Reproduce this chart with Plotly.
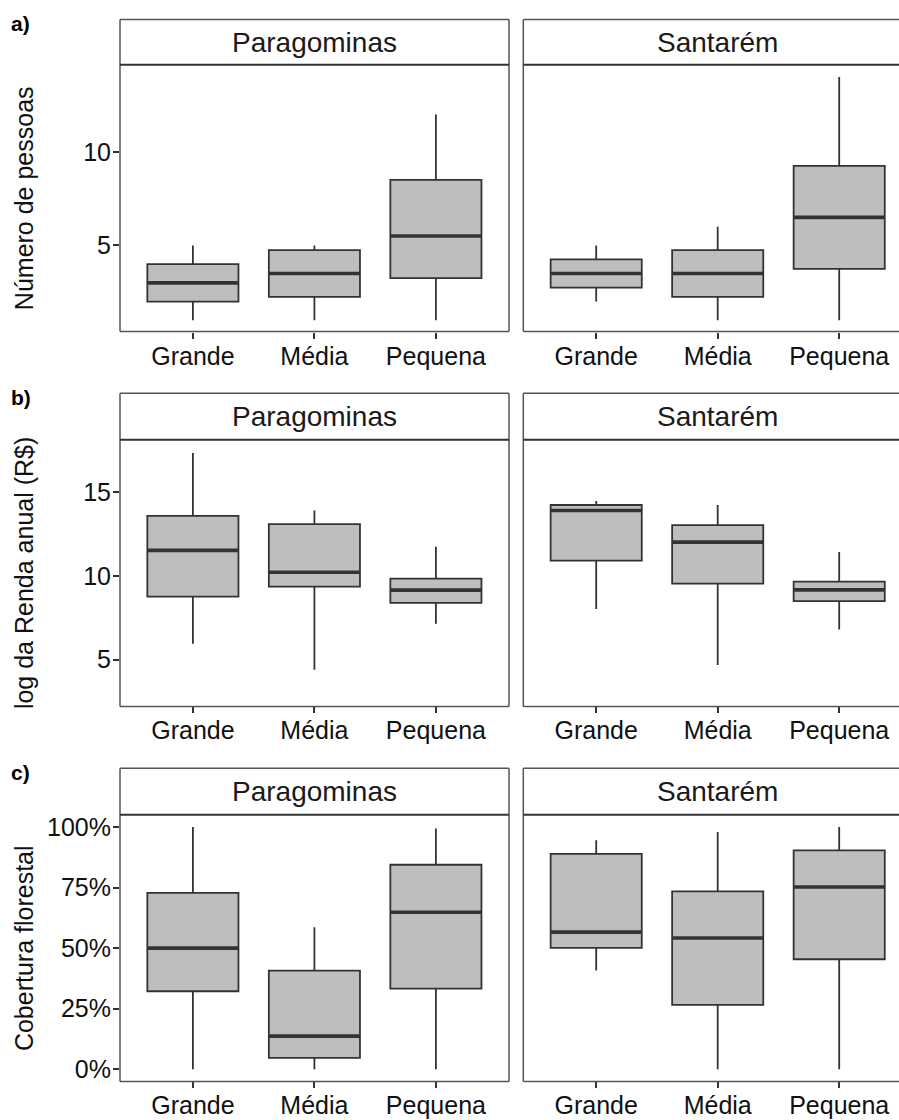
import plotly.graph_objects as go

# ---------------- data ----------------
categories = ["Grande", "Média", "Pequena"]
sites = ["Paragominas", "Santarém"]
panel_tags = ["a)", "b)", "c)"]
y_titles = ["Número de pessoas", "log da Renda anual (R$)", "Cobertura florestal"]

# a) Número de pessoas
pessoas_par_low = [1, 1, 1]
pessoas_par_q1 = [2.0, 2.25, 3.25]
pessoas_par_med = [3.0, 3.5, 5.5]
pessoas_par_q3 = [4.0, 4.75, 8.5]
pessoas_par_high = [5, 5, 12]
pessoas_san_low = [2, 1, 1]
pessoas_san_q1 = [2.75, 2.25, 3.75]
pessoas_san_med = [3.5, 3.5, 6.5]
pessoas_san_q3 = [4.25, 4.75, 9.25]
pessoas_san_high = [5, 6, 14]

# b) log da Renda anual (R$)
renda_par_low = [5.95, 4.40, 7.14]
renda_par_q1 = [8.77, 9.36, 8.39]
renda_par_med = [11.53, 10.22, 9.15]
renda_par_q3 = [13.59, 13.10, 9.84]
renda_par_high = [17.34, 13.91, 11.74]
renda_san_low = [8.02, 4.68, 6.80]
renda_san_q1 = [10.91, 9.54, 8.49]
renda_san_med = [13.91, 12.02, 9.17]
renda_san_q3 = [14.24, 13.04, 9.66]
renda_san_high = [14.48, 14.24, 11.43]

# c) Cobertura florestal (fraction)
cob_par_low = [0.0, 0.0, 0.0]
cob_par_q1 = [0.322, 0.047, 0.333]
cob_par_med = [0.50, 0.137, 0.648]
cob_par_q3 = [0.728, 0.407, 0.844]
cob_par_high = [1.0, 0.586, 0.993]
cob_san_low = [0.408, 0.0, 0.0]
cob_san_q1 = [0.501, 0.266, 0.454]
cob_san_med = [0.566, 0.542, 0.752]
cob_san_q3 = [0.889, 0.734, 0.903]
cob_san_high = [0.945, 0.979, 1.0]

y_ranges = [[0.4, 14.65], [2.2, 18.14], [-0.05, 1.05]]
y_ticks = [[5, 10], [5, 10, 15], [0, 0.25, 0.5, 0.75, 1.0]]
y_formats = ["", "", ".0%"]

panels = [
    [(pessoas_par_low, pessoas_par_q1, pessoas_par_med, pessoas_par_q3, pessoas_par_high),
     (pessoas_san_low, pessoas_san_q1, pessoas_san_med, pessoas_san_q3, pessoas_san_high)],
    [(renda_par_low, renda_par_q1, renda_par_med, renda_par_q3, renda_par_high),
     (renda_san_low, renda_san_q1, renda_san_med, renda_san_q3, renda_san_high)],
    [(cob_par_low, cob_par_q1, cob_par_med, cob_par_q3, cob_par_high),
     (cob_san_low, cob_san_q1, cob_san_med, cob_san_q3, cob_san_high)],
]

# ---------------- layout geometry (pixels) ----------------
W, H = 899, 1120
col_left = [120.0, 523.3]
col_right = [509.0, 899.0]
px_per_unit = 121.5
strip_top = [17.5, 392.7, 769.0]
strip_bottom = [63.0, 439.3, 815.7]
plot_bottom = [330.7, 707.0, 1083.3]

FONT = "Liberation Sans, Arial, sans-serif"
BOX_FILL = "#bebebe"
BOX_LINE = "#333333"
BORDER = "#555555"
BOX_W = 0.75


def px(x):
    return x / W


def py(y):
    return 1 - y / H


fig = go.Figure()
layout_axes = {}
shapes = []
annotations = []
xpos = [1, 2, 3]

for r in range(3):
    for c in range(2):
        k = r * 2 + c + 1
        xa = "x" if k == 1 else f"x{k}"
        ya = "y" if k == 1 else f"y{k}"
        low, q1, med, q3, high = panels[r][c]
        fig.add_trace(go.Box(
            x=xpos, q1=q1, median=med, q3=q3, lowerfence=low, upperfence=high,
            width=BOX_W, whiskerwidth=0, boxpoints=False,
            fillcolor=BOX_FILL, line=dict(color=BOX_LINE, width=1.8),
            xaxis=xa, yaxis=ya, showlegend=False, hoverinfo="skip",
        ))
        mx, my = [], []
        for xi, m in zip(xpos, med):
            mx += [xi - BOX_W / 2, xi + BOX_W / 2, None]
            my += [m, m, None]
        fig.add_trace(go.Scatter(
            x=mx, y=my, mode="lines", line=dict(color=BOX_LINE, width=3.6),
            xaxis=xa, yaxis=ya, showlegend=False, hoverinfo="skip",
        ))

        x_hi = 0.4 + (col_right[c] - col_left[c]) / px_per_unit
        xkey = "xaxis" if k == 1 else f"xaxis{k}"
        ykey = "yaxis" if k == 1 else f"yaxis{k}"
        layout_axes[xkey] = dict(
            domain=[px(col_left[c]), px(col_right[c])],
            anchor=ya, range=[0.4, x_hi],
            tickvals=xpos, ticktext=categories,
            ticks="outside", ticklen=6, tickwidth=1.5, tickcolor=BOX_LINE,
            ticklabelstandoff=-4,
            tickfont=dict(family=FONT, size=25, color="#111111"),
            showgrid=False, zeroline=False, showline=False, fixedrange=True,
        )
        layout_axes[ykey] = dict(
            domain=[py(plot_bottom[r]), py(strip_bottom[r])],
            anchor=xa, range=y_ranges[r],
            tickvals=y_ticks[r], tickformat=y_formats[r],
            ticks="outside" if c == 0 else "", ticklen=6, tickwidth=1.5,
            tickcolor=BOX_LINE, showticklabels=(c == 0),
            ticklabelstandoff=-3,
            tickfont=dict(family=FONT, size=25, color="#111111"),
            showgrid=False, zeroline=False, showline=False, fixedrange=True,
        )

        # panel frame + strip
        L, R = col_left[c], col_right[c]
        lines = [
            (L, strip_top[r], L, plot_bottom[r]),
            (L, strip_top[r], R, strip_top[r]),
            (L, plot_bottom[r], R, plot_bottom[r]),
        ]
        if c == 0:
            lines.append((R, strip_top[r], R, plot_bottom[r]))
        for (x0, y0, x1, y1) in lines:
            shapes.append(dict(type="line", xref="paper", yref="paper",
                               x0=px(x0), y0=py(y0), x1=px(x1), y1=py(y1),
                               line=dict(color=BORDER, width=1.5)))
        shapes.append(dict(type="line", xref="paper", yref="paper",
                           x0=px(L), y0=py(strip_bottom[r]), x1=px(R), y1=py(strip_bottom[r]),
                           line=dict(color="#333333", width=2)))
        strip_center_x = (L + (col_left[c] + 3.2 * px_per_unit)) / 2
        annotations.append(dict(
            text=sites[c], xref="paper", yref="paper",
            x=px(strip_center_x), y=py((strip_top[r] + strip_bottom[r]) / 2),
            xanchor="center", yanchor="middle", showarrow=False,
            font=dict(family=FONT, size=28, color="#1a1a1a"),
        ))

    # y title
    annotations.append(dict(
        text=y_titles[r], xref="paper", yref="paper",
        x=px(24), y=py((strip_bottom[r] + plot_bottom[r]) / 2),
        xanchor="center", yanchor="middle", textangle=-90, showarrow=False,
        font=dict(family=FONT, size=25, color="#111111"),
    ))
    # panel tag
    annotations.append(dict(
        text=f"<b>{panel_tags[r]}</b>", xref="paper", yref="paper",
        x=px(9), y=py(strip_top[r] + 4), xanchor="left", yanchor="middle",
        showarrow=False, font=dict(family=FONT, size=21, color="#000000"),
    ))

fig.update_layout(
    width=W, height=H,
    margin=dict(l=0, r=0, t=0, b=0),
    paper_bgcolor="white", plot_bgcolor="white",
    shapes=shapes, annotations=annotations,
    **layout_axes,
)

fig.write_html("out.html", config={"displayModeBar": False})
